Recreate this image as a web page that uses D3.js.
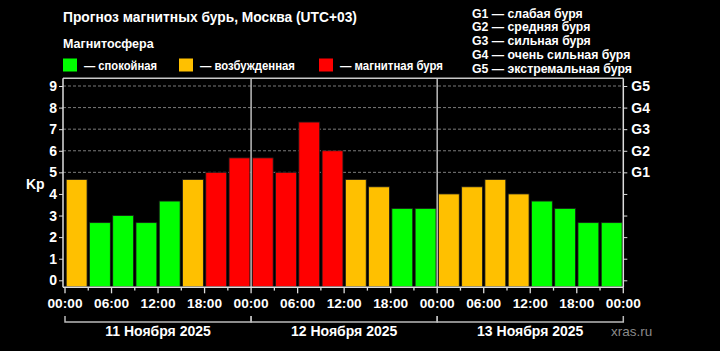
<!DOCTYPE html>
<html><head><meta charset="utf-8">
<script src="https://cdn.jsdelivr.net/npm/d3@7"></script>
<style>
html,body{margin:0;padding:0;background:#000;}
svg{display:block;}
text{font-family:"Liberation Sans",Arial,sans-serif;font-weight:bold;fill:#fff;}
</style></head><body>
<svg id="c" width="720" height="351"></svg>
<script>
const title = "Прогноз магнитных бурь, Москва (UTC+03)";
const legendTitle = "Магнитосфера";
const legendItems = ["— спокойная", "— возбужденная", "— магнитная буря"];
const legendColors = ["#00ff00", "#ffc000", "#ff0000"];
const gLegend = ["G1 — слабая буря", "G2 — средняя буря", "G3 — сильная буря", "G4 — очень сильная буря", "G5 — экстремальная буря"];
const days = ["11 Ноября 2025", "12 Ноября 2025", "13 Ноября 2025"];
const hourLabels = ["00:00", "06:00", "12:00", "18:00"];
const kp = [4.67, 2.67, 3.0, 2.67, 3.67, 4.67, 5.0, 5.67,
            5.67, 5.0, 7.33, 6.0, 4.67, 4.33, 3.33, 3.33,
            4.0, 4.33, 4.67, 4.0, 3.67, 3.33, 2.67, 2.67];
const yTicks = [0,1,2,3,4,5,6,7,8,9];
const gTicks = ["", "", "", "", "", "G1", "G2", "G3", "G4", "G5"];

const svg = d3.select("#c");
const L = 65, R = 623.3, T = 78.3, B = 287.3;
const x = d3.scaleLinear().domain([0, kp.length]).range([L, R]);
const y = d3.scaleLinear().domain([0, 9]).range([280.3, 86]);
const color = v => v >= 5 ? legendColors[2] : v >= 4 ? legendColors[1] : legendColors[0];

// Title & legends
svg.append("text").attr("x", 63).attr("y", 21.5).style("font-size", "13.8px").text(title);
svg.append("text").attr("x", 63).attr("y", 48).style("font-size", "12.5px").text(legendTitle);
const legX = [63, 179, 319];
const legW = [73, 95, 103];
legendItems.forEach((t, i) => {
  svg.append("rect").attr("x", legX[i]).attr("y", 58.5).attr("width", 14).attr("height", 13).attr("fill", legendColors[i]);
  svg.append("text").attr("x", legX[i] + 21).attr("y", 69.5).style("font-size", "13px")
    .attr("textLength", legW[i]).attr("lengthAdjust", "spacingAndGlyphs").text(t);
});
gLegend.forEach((t, i) => {
  svg.append("text").attr("x", 472).attr("y", 17.5 + i * 13.75).style("font-size", "12.3px").text(t);
});

// gridlines 5..9
svg.append("g").selectAll("line").data(yTicks.filter(d => d >= 5)).join("line")
  .attr("x1", 63).attr("x2", R).attr("y1", d => y(d)).attr("y2", d => y(d))
  .attr("stroke", "#7a7a7a").attr("stroke-width", 1).attr("stroke-dasharray", "3,2");

// bars
const slot = x(1) - x(0);
svg.append("g").selectAll("rect").data(kp).join("rect")
  .attr("x", (d, i) => x(i) + 1.2).attr("width", slot - 2.4)
  .attr("y", d => y(d)).attr("height", d => B - y(d) - 0.5)
  .attr("fill", d => color(d)).attr("stroke", "#1a1a1a").attr("stroke-width", 0.8);

// day separators
svg.append("g").selectAll("line").data([8, 16]).join("line")
  .attr("x1", d => x(d)).attr("x2", d => x(d)).attr("y1", T).attr("y2", B)
  .attr("stroke", "#b0b0b0").attr("stroke-width", 1.6);

// frame top
svg.append("line").attr("x1", 63).attr("x2", R).attr("y1", T).attr("y2", T).attr("stroke", "#c8c8c8").attr("stroke-width", 1.5);

// left axis
const gl = svg.append("g").attr("transform", `translate(63,0)`)
  .call(d3.axisLeft(y).tickValues(yTicks).tickSize(4).tickPadding(2).tickFormat(d3.format("d")));
gl.select(".domain").remove();
gl.selectAll(".tick line").attr("stroke", "#ddd");
gl.selectAll(".tick text").style("font-size", "14px").style("font-family", '"Liberation Sans",Arial,sans-serif').attr("fill", "#fff");
svg.append("line").attr("x1", 63).attr("x2", 63).attr("y1", T).attr("y2", B).attr("stroke", "#ddd").attr("stroke-width", 1.5);

// right axis
const gr = svg.append("g").attr("transform", `translate(${R},0)`)
  .call(d3.axisRight(y).tickValues(yTicks).tickSize(4).tickPadding(4).tickFormat((d, i) => gTicks[i]));
gr.select(".domain").remove();
gr.selectAll(".tick line").attr("stroke", "#ddd");
gr.selectAll(".tick text").style("font-size", "14px").style("font-family", '"Liberation Sans",Arial,sans-serif').attr("fill", "#fff");
svg.append("line").attr("x1", R).attr("x2", R).attr("y1", T).attr("y2", B).attr("stroke", "#ddd").attr("stroke-width", 1.5);

// bottom axis
svg.append("line").attr("x1", 63).attr("x2", R).attr("y1", B).attr("y2", B).attr("stroke", "#ddd").attr("stroke-width", 1.5);
const tickIdx = d3.range(0, kp.length + 1);
svg.append("g").selectAll("line").data(tickIdx).join("line")
  .attr("x1", d => x(d)).attr("x2", d => x(d)).attr("y1", B).attr("y2", d => B + (d % 2 === 0 ? 6 : 3.3))
  .attr("stroke", "#ddd").attr("stroke-width", 1.3);
svg.append("g").selectAll("text").data(tickIdx.filter(d => d % 2 === 0)).join("text")
  .attr("x", d => x(d)).attr("y", 308.3).attr("text-anchor", "middle").style("font-size", "13.7px")
  .text(d => hourLabels[(d / 2) % 4]);

// day brackets
days.forEach((t, i) => {
  const x0 = x(i * 8), x1 = x(i * 8 + 8);
  svg.append("path").attr("d", `M${x0},316V322H${x1}V316`).attr("fill", "none").attr("stroke", "#bbb").attr("stroke-width", 1.5);
  svg.append("text").attr("x", (x0 + x1) / 2).attr("y", 336).attr("text-anchor", "middle").style("font-size", "14px").text(t);
});
svg.append("text").attr("x", 611).attr("y", 336).style("font-size", "13.5px").style("font-weight", "normal").style("fill", "#8a8a8a").text("xras.ru");

// Kp label
svg.append("text").attr("x", 26).attr("y", 189).style("font-size", "14px").text("Kp");
</script>
</body></html>
